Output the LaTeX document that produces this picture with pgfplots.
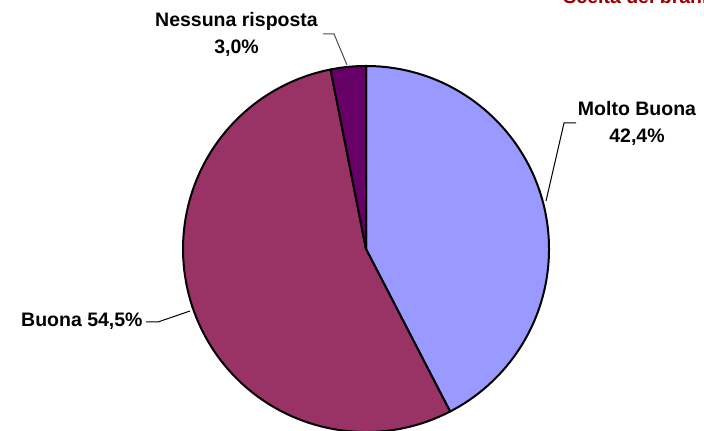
\documentclass[border=0pt]{standalone}
\usepackage{pgfplots}
\pgfplotsset{compat=1.18}
\usepackage{pgfplotstable}
\usepackage{fontspec}
\setmainfont{Liberation Sans}

\definecolor{cMolto}{HTML}{9999FF}
\definecolor{cBuona}{HTML}{993366}
\definecolor{cNess}{HTML}{660066}
\definecolor{cTitle}{HTML}{990000}

% share of answers, percent
\pgfplotstableread{
name value
MoltoBuona 42.4
Buona 54.5
Nessuna 3.0
}\piedata

\begin{document}
\begin{tikzpicture}
\path[use as bounding box, clip] (0,0) rectangle (352pt,215.5pt);
\begin{axis}[
    x=0.5pt, y=0.5pt,
    xmin=0, xmax=704, ymin=0, ymax=431,
    hide axis,
    clip=false,
    anchor=south west, at={(0,0)},
    font=\fontsize{9.75}{13.5}\selectfont\bfseries,
]
\pgfplotstablegetelem{0}{value}\of\piedata \let\va\pgfplotsretval
\pgfplotstablegetelem{1}{value}\of\piedata \let\vb\pgfplotsretval
\pgfmathsetmacro{\aO}{90}
\pgfmathsetmacro{\aI}{90-3.6*\va}
\pgfmathsetmacro{\aII}{\aI-3.6*\vb}
\pgfmathsetmacro{\aIII}{-270}

\filldraw[fill=cMolto, draw=black, line width=1pt, line join=round]
  (axis cs:366,182) -- ++(\aO:91.5pt) arc[start angle=\aO, end angle=\aI, radius=91.5pt] -- cycle;
\filldraw[fill=cBuona, draw=black, line width=1pt, line join=round]
  (axis cs:366,182) -- ++(\aI:91.5pt) arc[start angle=\aI, end angle=\aII, radius=91.5pt] -- cycle;
\filldraw[fill=cNess, draw=black, line width=1pt, line join=round]
  (axis cs:366,182) -- ++(\aII:91.5pt) arc[start angle=\aII, end angle=\aIII, radius=91.5pt] -- cycle;

% leader lines
\draw[black, line width=0.5pt] (axis cs:576,308) -- (axis cs:564,308) -- (axis cs:546,230);
\draw[black, line width=0.5pt] (axis cs:146,109) -- (axis cs:158,109) -- (axis cs:190,120);
\draw[black!70, line width=0.5pt] (axis cs:323,397) -- (axis cs:334,397) -- (axis cs:347,366);

% labels
\node[anchor=base] at (axis cs:236.5,404) {Nessuna risposta};
\node[anchor=base] at (axis cs:236.5,377) {3,0\%};
\node[anchor=base] at (axis cs:637,315) {Molto Buona};
\node[anchor=base] at (axis cs:637,288) {42,4\%};
\node[anchor=base east, inner xsep=0pt] at (axis cs:143,104) {Buona 54,5\%};
\node[anchor=base west, inner xsep=0pt, text=cTitle] at (axis cs:563,427) {Scelta dei brani};
\end{axis}
\end{tikzpicture}
\end{document}
